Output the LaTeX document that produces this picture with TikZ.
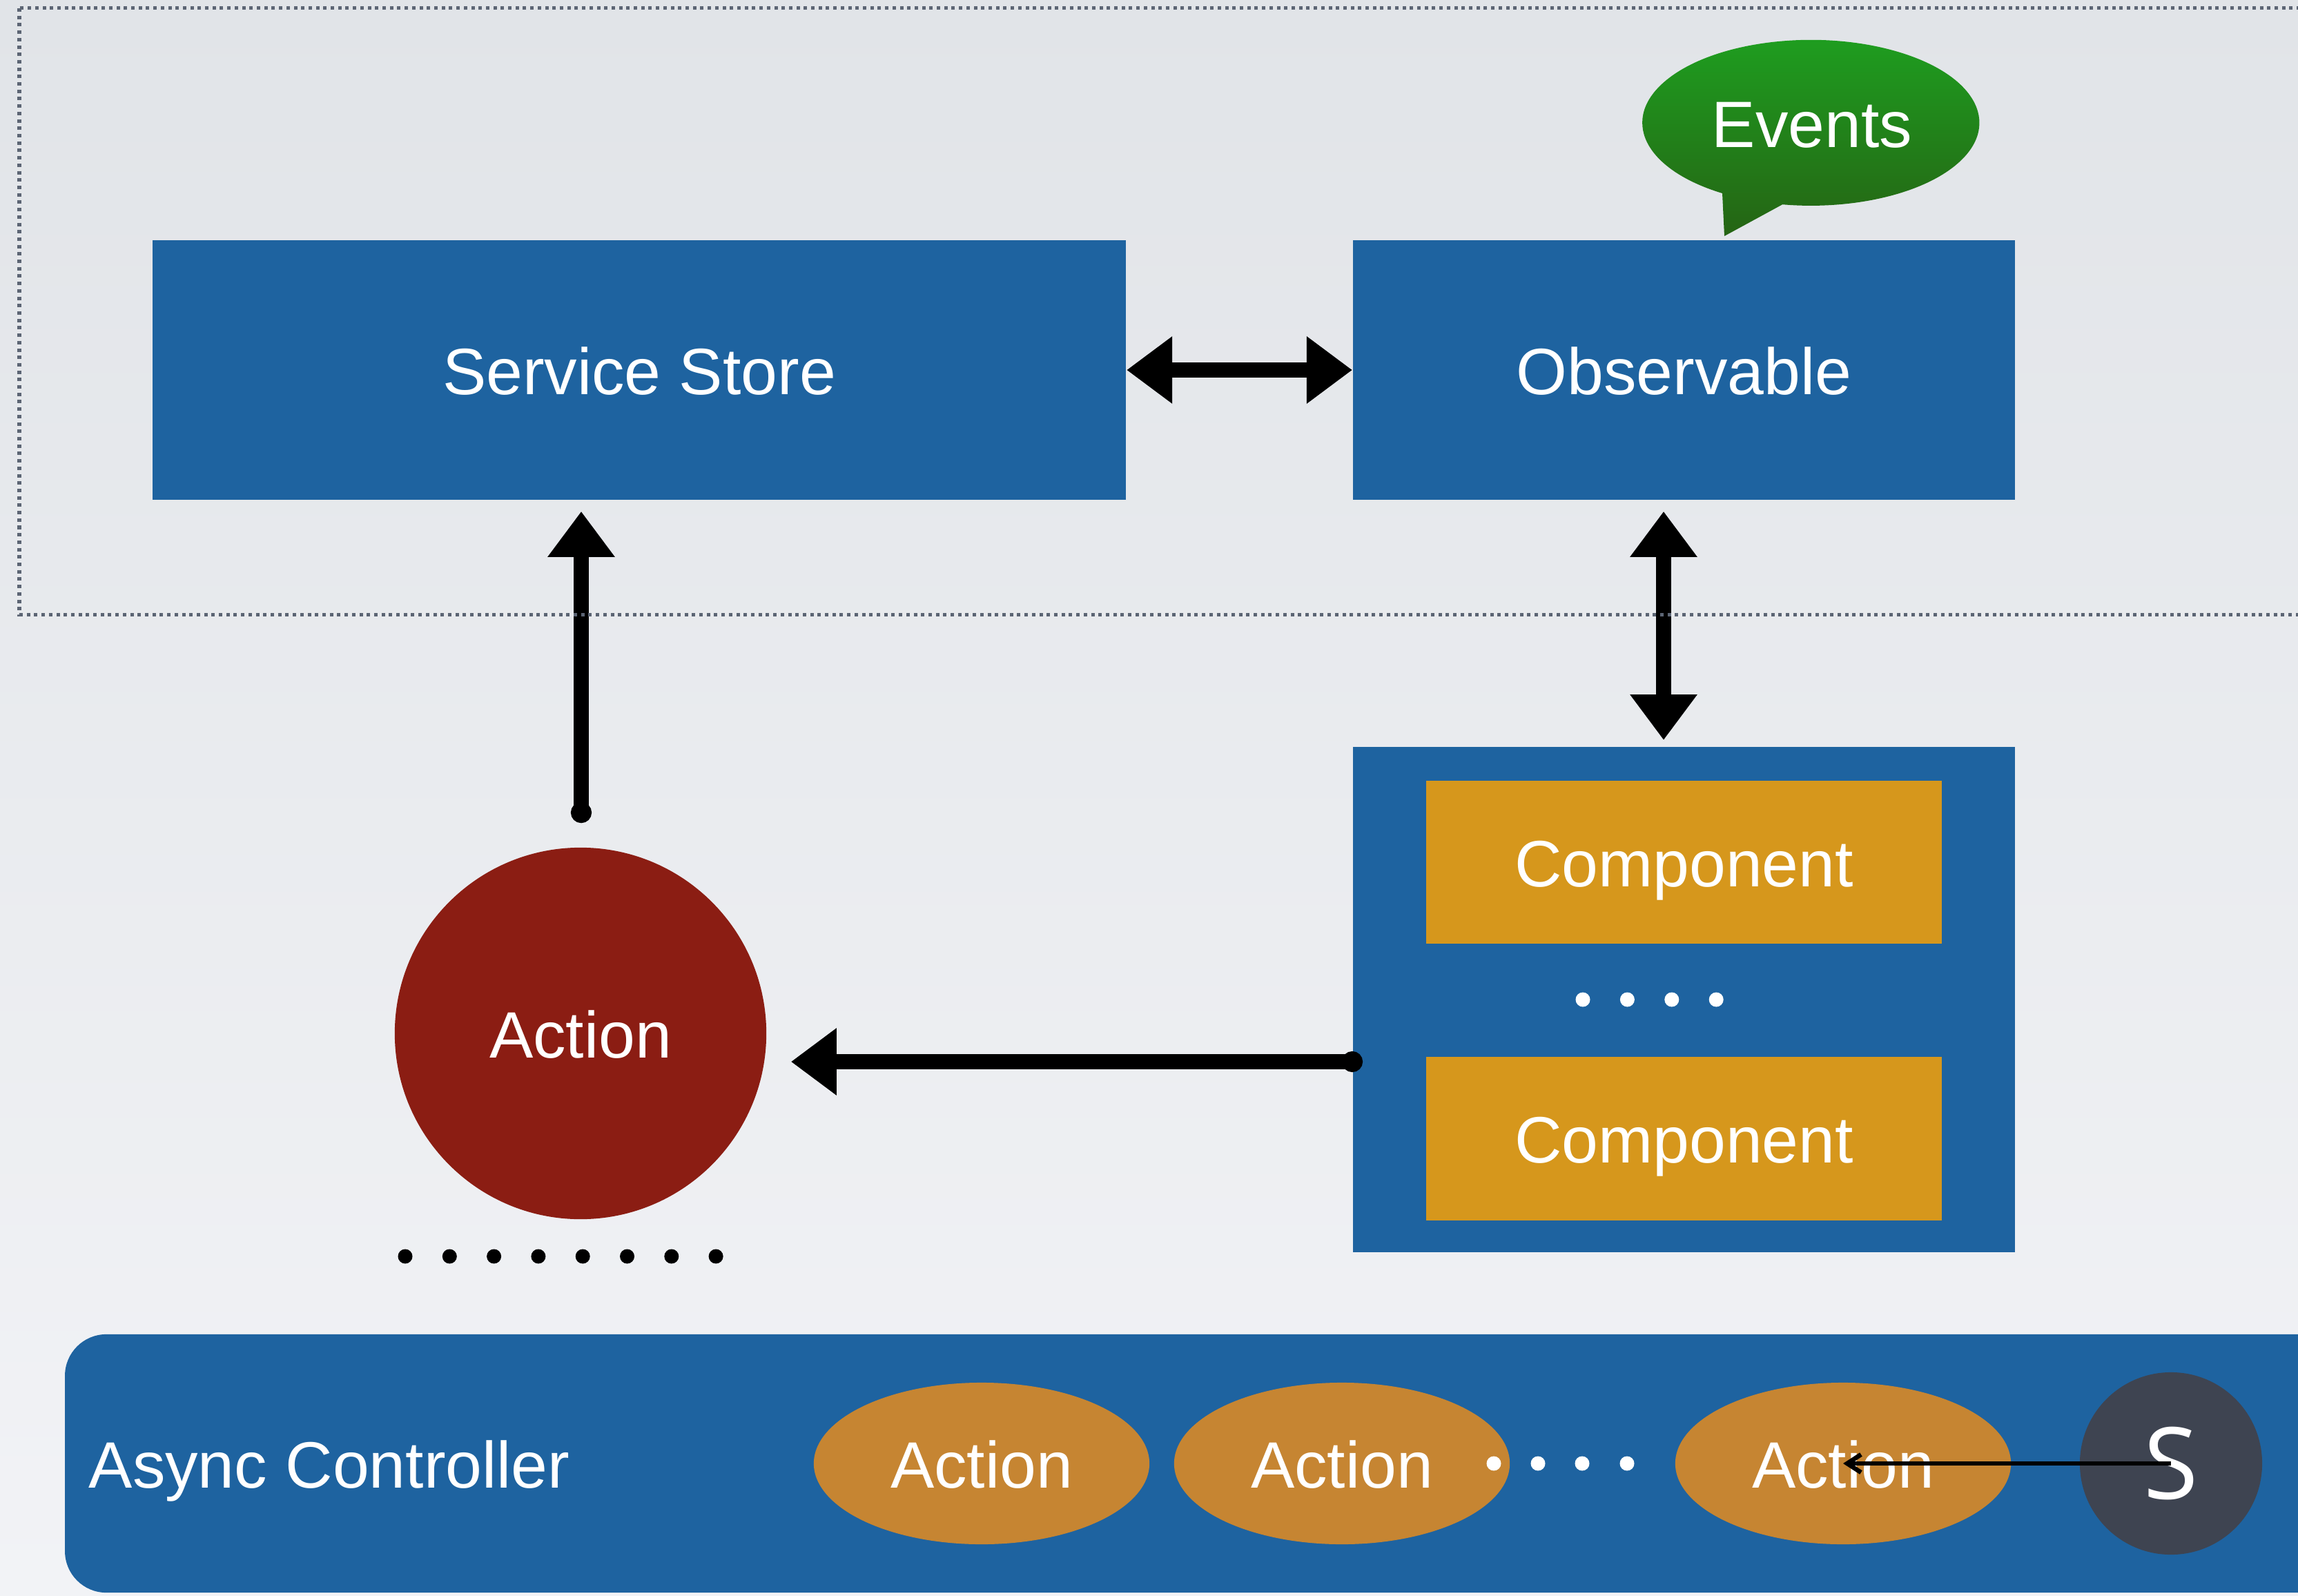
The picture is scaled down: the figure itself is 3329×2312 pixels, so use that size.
\documentclass[tikz,border=0pt]{standalone}
\usepackage{fontspec}
\setmainfont{Liberation Sans}
\newfontfamily\sletterfont{Open Sans}
\usetikzlibrary{arrows.meta,shapes.geometric,calc}

\definecolor{bgtop}{RGB}{225,228,232}
\definecolor{bgbot}{RGB}{242,243,246}
\definecolor{mblue}{RGB}{30,99,160}
\definecolor{mgold}{RGB}{214,151,28}
\definecolor{mred}{RGB}{139,29,19}
\definecolor{morange}{RGB}{198,133,50}
\definecolor{mslate}{RGB}{62,68,81}
\definecolor{mdots}{RGB}{92,101,116}
\definecolor{evtop}{RGB}{30,160,32}
\definecolor{evbot}{RGB}{37,100,20}

\begin{document}
\begin{tikzpicture}[x=0.01cm,y=-0.01cm,
  lbl/.style={text=white,font=\fontsize{27}{32}\selectfont,text height=0.7cm,text depth=0pt,inner sep=0pt},
  bluebox/.style={rectangle,fill=mblue,draw=none},
  goldbox/.style={rectangle,fill=mgold,draw=none,minimum width=7.47cm,minimum height=2.36cm},
  actell/.style={ellipse,fill=morange,draw=none,minimum width=4.86cm,minimum height=2.34cm},
  fatline/.style={line width=0.22cm,draw=black,line cap=round},
  bigtip/.tip={Triangle[length=0.66cm,width=0.93cm]},
  dottip/.tip={Circle[length=0.3cm]},
  dotborder/.style={draw=mdots,line width=0.05cm,dash pattern=on 0.05cm off 0.057cm}
]
\useasboundingbox (0,0) rectangle (3329,2312);
\clip (0,0) rectangle (3329,2312);
\shade[top color=bgtop,bottom color=bgbot] (0,0) rectangle (3329,2312);

% top boxes
\node[bluebox,minimum width=14.10cm,minimum height=3.76cm,lbl] (ss) at (926,536) {Service Store};
\node[bluebox,minimum width=9.59cm,minimum height=3.76cm,lbl] (obs) at (2439.5,536) {Observable};

% events bubble
\shade[top color=evtop,bottom color=evbot]
  (2495,280) arc[start angle=238.3,end angle=-99.7,x radius=2.44cm,y radius=1.2cm]
  -- (2498,342) -- cycle;
\node[lbl] (ev) at (2625,178) {Events};

% component container
\node[bluebox,minimum width=9.59cm,minimum height=7.32cm] (cont) at (2439.5,1448) {};
\node[goldbox,lbl] (comp1) at (2439.5,1249) {Component};
\node[goldbox,lbl] (comp2) at (2439.5,1649.5) {Component};
\foreach \i in {0,...,3} \fill[white] (2293+64.4*\i,1448) circle[radius=0.105cm];

% action circle
\node[circle,fill=mred,draw=none,minimum size=5.38cm,lbl] (act) at (841,1497) {Action};
\foreach \i in {0,...,7} \fill[black] (587+64.3*\i,1820) circle[radius=0.105cm];

% async controller bar
\node[rectangle,rounded corners=0.6cm,fill=mblue,draw=none,minimum width=33.2cm,minimum height=3.74cm] (ac) at (1755,2120) {};
\node[lbl,anchor=base west] (acl) at (128,2155) {Async Controller};
\node[actell,lbl] (a1) at (1422,2120) {Action};
\node[actell,lbl] (a2) at (1944,2120) {Action};
\node[actell,lbl] (a3) at (2670,2120) {Action};
\foreach \x in {2164,2228,2292,2357} \fill[white] (\x,2120) circle[radius=0.105cm];
\node[circle,fill=mslate,draw=none,minimum size=2.64cm,inner sep=0pt,text=white,font=\sletterfont\fontsize{41}{48}\selectfont] (S) at (3145,2120) {S};

% connectors
\draw[fatline,bigtip-bigtip] (ss.east) -- (obs.west);
\draw[fatline,bigtip-bigtip] ([shift={(-29.5,16)}]obs.south) -- ([shift={(-29.5,-9)}]cont.north);
\coordinate (vl) at (act.north |- ss.south);
\draw[fatline,dottip-bigtip] ([shift={(1,-35)}]act.north) -- ([shift={(1,16)}]vl);
\coordinate (hs) at ([shift={(15,90)}]cont.west);
\coordinate (he) at (act.east |- hs);
\draw[fatline,dottip-bigtip] (hs) -- ([shift={(35,0)}]he);
\draw[line width=0.065cm,-{Straight Barb[length=0.2cm,width=0.26cm]}] (S.center) -- (a3.center);

% dotted frame
\draw[dotborder] (28,12) rectangle (3345,890);
\end{tikzpicture}
\end{document}
